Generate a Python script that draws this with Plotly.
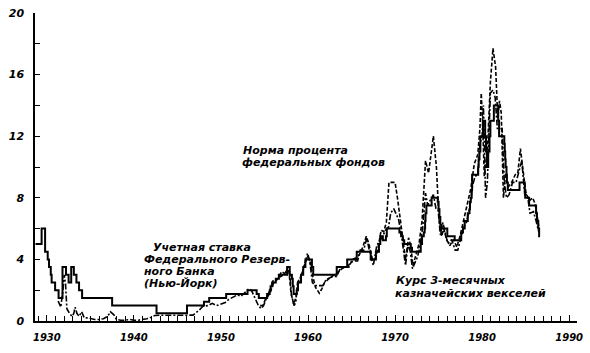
import plotly.graph_objects as go

# ---------------- data ----------------
# Discount rate, Federal Reserve Bank of New York (step series)
disc_t = [1928.7, 1929.4, 1929.8, 1930.1, 1930.25, 1930.45, 1930.55, 1930.95, 1931.35, 1931.8,
          1932.2, 1932.5, 1932.8, 1933.1, 1933.4, 1933.7, 1934.05, 1937.5, 1942.6, 1946.1,
          1948.05, 1948.65, 1950.6, 1953.05, 1954.1, 1954.35, 1955.3, 1955.6, 1955.7, 1955.9,
          1956.3, 1956.65, 1957.6, 1957.9, 1958.15, 1958.25, 1958.35, 1958.7, 1958.85, 1959.2,
          1959.45, 1959.7, 1960.45, 1960.6, 1963.3, 1964.5, 1965.6, 1967.2, 1967.8, 1968.15,
          1968.3, 1968.6, 1968.95, 1969.05, 1970.5, 1970.7, 1970.9, 1971.05, 1971.8, 1971.95,
          1972.95, 1973.1, 1973.3, 1973.4, 1973.45, 1973.5, 1973.6, 1974.2, 1974.9, 1975.0,
          1975.1, 1975.2, 1975.35, 1976.0, 1976.85, 1977.6, 1977.8, 1978.0, 1978.35, 1978.55,
          1978.6, 1978.7, 1978.8, 1978.85, 1979.55, 1979.6, 1979.7, 1979.8, 1980.1, 1980.35,
          1980.45, 1980.55, 1980.7, 1980.85, 1980.95, 1981.35, 1981.85, 1981.95, 1982.55, 1982.6,
          1982.65, 1982.7, 1982.8, 1982.85, 1982.95, 1984.3, 1984.9, 1984.95, 1985.4, 1986.2,
          1986.3, 1986.45, 1986.55, 1986.65]
disc_v = [5.0, 6.0, 4.5, 4.0, 3.5, 3.0, 2.5, 2.0, 1.5, 3.5,
          3.0, 2.5, 3.5, 3.0, 2.5, 2.0, 1.5, 1.0, 0.5, 1.0,
          1.25, 1.5, 1.75, 2.0, 1.75, 1.5, 1.75, 2.0, 2.25, 2.5,
          2.75, 3.0, 3.5, 3.0, 2.75, 2.25, 1.75, 2.0, 2.5, 3.0,
          3.5, 4.0, 3.5, 3.0, 3.5, 4.0, 4.5, 4.0, 4.5, 5.0,
          5.5, 5.25, 5.5, 6.0, 5.75, 5.5, 5.25, 5.0, 4.75, 4.5,
          5.0, 5.5, 5.75, 6.0, 6.5, 7.0, 7.5, 8.0, 7.75, 7.25,
          6.75, 6.25, 6.0, 5.5, 5.25, 5.75, 6.0, 6.5, 7.0, 7.25,
          7.75, 8.0, 8.5, 9.5, 10.0, 10.5, 11.0, 12.0, 13.0, 12.0,
          11.0, 10.0, 11.0, 12.0, 13.0, 14.0, 13.0, 12.0, 11.5, 11.0,
          10.5, 10.0, 9.5, 9.0, 8.5, 9.0, 8.5, 8.0, 7.5, 7.0,
          6.5, 6.0, 5.5, 5.5]

# Federal funds rate (dashed)
ff_t = [1954.5, 1954.8, 1955.1, 1955.4, 1955.7, 1956.0, 1956.3, 1956.6, 1956.9, 1957.2,
        1957.5, 1957.8, 1958.05, 1958.35, 1958.6, 1958.85, 1959.1, 1959.4, 1959.7, 1959.95,
        1960.25, 1960.55, 1960.85, 1961.3, 1961.6, 1961.9, 1962.3, 1962.7, 1963.1, 1963.5,
        1963.9, 1964.3, 1964.7, 1965.1, 1965.5, 1965.9, 1966.3, 1966.7, 1967.0, 1967.4,
        1967.8, 1968.1, 1968.4, 1968.7, 1969.0, 1969.3, 1970.0, 1970.3, 1970.6, 1970.9,
        1971.2, 1971.55, 1971.8, 1972.05, 1972.4, 1972.75, 1973.1, 1973.5, 1973.85, 1974.4,
        1974.75, 1975.05, 1975.35, 1975.6, 1975.9, 1976.3, 1976.7, 1977.1, 1977.5, 1977.9,
        1978.3, 1978.7, 1979.1, 1979.5, 1979.75, 1979.9, 1980.05, 1980.25, 1980.6, 1980.95,
        1981.25, 1981.55, 1981.8, 1982.0, 1982.2, 1982.45, 1982.7, 1983.0, 1983.4, 1983.8,
        1984.1, 1984.4, 1984.7, 1985.0, 1985.4, 1985.8, 1986.1, 1986.4, 1986.55]
ff_v = [1.0, 1.0, 1.4, 1.6, 1.9, 2.4, 2.6, 2.8, 2.9, 3.0,
        3.2, 3.3, 1.8, 1.1, 1.5, 2.4, 2.7, 3.3, 3.8, 4.2,
        3.8, 2.9, 2.2, 1.8, 2.1, 2.5, 2.7, 2.9, 3.0, 3.2,
        3.4, 3.5, 3.5, 4.0, 4.1, 4.3, 4.8, 5.5, 5.0, 4.0,
        4.1, 4.9, 5.9, 5.8, 6.4, 9.0, 9.0, 7.9, 6.7, 5.4,
        4.0, 5.4, 4.9, 3.6, 4.4, 5.0, 6.5, 10.4, 9.6, 12.0,
        10.0, 6.6, 5.5, 6.0, 5.3, 4.9, 5.3, 4.8, 5.6, 6.6,
        7.5, 8.6, 10.2, 10.8, 12.5, 14.8, 13.0, 9.4, 11.0, 15.5,
        17.7, 16.5, 13.2, 14.3, 13.5, 8.0, 9.6, 8.7, 9.0, 9.5,
        9.6, 11.2, 9.8, 8.4, 7.8, 8.0, 7.6, 6.5, 6.0]

# 3-month Treasury bill rate (dash-dot)
tb_t = [1931.3, 1931.6, 1931.85, 1932.0, 1932.15, 1932.3, 1932.6, 1932.9, 1933.1, 1933.25,
        1933.45, 1933.7, 1934.0, 1934.3, 1934.7, 1935.0, 1935.5, 1936.0, 1936.5, 1937.0,
        1937.3, 1937.7, 1938.0, 1938.5, 1939.0, 1939.5, 1940.0, 1940.5, 1941.0, 1941.5,
        1942.0, 1942.4, 1943.0, 1944.0, 1945.0, 1946.0, 1946.8, 1947.5, 1947.9, 1948.5,
        1949.0, 1949.5, 1950.0, 1950.5, 1950.9, 1951.5, 1951.9, 1952.3, 1952.8, 1953.2,
        1953.5, 1953.9, 1954.3, 1954.6, 1954.9, 1955.3, 1955.7, 1955.95, 1956.3, 1956.7,
        1956.95, 1957.3, 1957.6, 1957.9, 1958.1, 1958.4, 1958.6, 1958.8, 1959.1, 1959.4,
        1959.7, 1959.95, 1960.2, 1960.5, 1960.8, 1961.3, 1961.7, 1962.1, 1962.5, 1962.9,
        1963.3, 1963.7, 1964.1, 1964.5, 1964.9, 1965.3, 1965.7, 1966.0, 1966.4, 1966.75,
        1967.0, 1967.5, 1967.9, 1968.2, 1968.5, 1968.9, 1969.25, 1969.5, 1969.85, 1970.1,
        1970.4, 1970.75, 1971.0, 1971.2, 1971.5, 1971.75, 1972.0, 1972.3, 1972.6, 1972.9,
        1973.2, 1973.5, 1973.75, 1974.0, 1974.4, 1974.7, 1974.95, 1975.2, 1975.5, 1975.8,
        1976.1, 1976.5, 1976.9, 1977.2, 1977.6, 1977.9, 1978.2, 1978.6, 1978.9, 1979.2,
        1979.5, 1979.75, 1980.0, 1980.15, 1980.4, 1980.6, 1980.95, 1981.25, 1981.5, 1981.75,
        1982.0, 1982.3, 1982.55, 1982.8, 1983.1, 1983.5, 1983.9, 1984.3, 1984.55, 1984.9,
        1985.2, 1985.5, 1985.9, 1986.2, 1986.5]
tb_v = [1.3, 0.9, 2.0, 3.0, 2.4, 0.8, 0.5, 0.3, 0.5, 0.9,
        0.5, 0.3, 0.6, 0.2, 0.2, 0.15, 0.1, 0.1, 0.15, 0.3,
        0.6, 0.4, 0.1, 0.05, 0.05, 0.1, 0.05, 0.05, 0.1, 0.15,
        0.25, 0.36, 0.37, 0.37, 0.38, 0.38, 0.38, 0.7, 0.95, 1.0,
        1.15, 1.0, 1.1, 1.2, 1.4, 1.55, 1.7, 1.6, 1.9, 2.1,
        2.0, 1.5, 1.0, 0.8, 1.0, 1.6, 2.1, 2.6, 2.6, 2.9,
        3.2, 3.1, 3.3, 3.2, 1.7, 1.0, 1.2, 2.5, 2.8, 3.2,
        3.9, 4.4, 3.9, 2.5, 2.3, 2.3, 2.3, 2.7, 2.8, 2.9,
        2.9, 3.4, 3.5, 3.5, 3.8, 3.9, 3.9, 4.6, 4.6, 5.4,
        4.7, 3.6, 4.9, 5.2, 5.4, 5.9, 6.1, 7.0, 7.3, 7.0,
        6.6, 5.5, 4.4, 3.6, 5.0, 4.5, 3.4, 3.8, 4.2, 5.0,
        6.2, 8.3, 7.5, 7.8, 8.2, 7.3, 7.2, 5.6, 6.4, 5.6,
        5.0, 5.3, 4.6, 4.6, 5.5, 6.1, 6.4, 7.4, 8.8, 9.4,
        9.5, 11.5, 12.0, 14.0, 8.0, 9.0, 14.8, 15.0, 14.5, 12.5,
        12.5, 12.5, 9.0, 8.0, 8.2, 9.0, 9.0, 9.8, 10.4, 8.2,
        8.2, 7.0, 7.1, 6.5, 5.8]

x_tick_vals = [1930, 1940, 1950, 1960, 1970, 1980, 1990]
x_tick_text = ["1930", "1940", "1950", "1960", "1970", "1980", "1990"]
y_tick_vals = [0, 2, 4, 6, 8, 10, 12, 14, 16, 18, 20]
y_tick_text = ["0", "", "4", "", "8", "", "12", "", "16", "", "20"]

label_ff = ["Норма процента", "федеральных фондов"]
label_disc = ["Учетная ставка", "Федерального Резерв-", "ного Банка", "(Нью-Йорк)"]
label_tb = ["Курс 3-месячных", "казначейских векселей"]

# ---------------- figure ----------------
W, H = 590, 353
ML, MR, MT, MB = 35, 7, 7, 32
PW, PH = W - ML - MR, H - MT - MB

def px_x(px):
    return (px - ML) / PW

def px_y(py):
    return (H - MB - py) / PH

fig = go.Figure()
fig.add_trace(go.Scatter(x=tb_t, y=tb_v, mode="lines",
                         line=dict(color="black", width=1.6, dash="6px,2px,2px,2px"),
                         hoverinfo="skip"))
fig.add_trace(go.Scatter(x=ff_t, y=ff_v, mode="lines",
                         line=dict(color="black", width=1.6, dash="4px,2px"),
                         hoverinfo="skip"))
fig.add_trace(go.Scatter(x=disc_t, y=disc_v, mode="lines",
                         line=dict(color="black", width=2, shape="hv"),
                         hoverinfo="skip"))

tick_font = dict(family="DejaVu Sans", size=10, color="black", style="italic", weight="bold")

fig.update_layout(
    width=W, height=H,
    margin=dict(l=ML, r=MR, t=MT, b=MB),
    paper_bgcolor="white", plot_bgcolor="white",
    showlegend=False,
    xaxis=dict(range=[1928.64, 1990.9], showgrid=False, zeroline=False,
               showline=True, linecolor="black", linewidth=1.5,
               tickmode="array", tickvals=x_tick_vals, ticktext=x_tick_text,
               ticks="inside", ticklen=6, tickwidth=1.3, tickcolor="black",
               minor=dict(dtick=1, ticks="inside", ticklen=5, tickwidth=1.2, tickcolor="black"),
               tickfont=tick_font, ticklabelstandoff=6),
    yaxis=dict(range=[0, 20], showgrid=False, zeroline=False,
               showline=True, linecolor="black", linewidth=1.5,
               tickmode="array", tickvals=y_tick_vals, ticktext=y_tick_text,
               ticks="inside", ticklen=5, tickwidth=1.2, tickcolor="black",
               tickfont=dict(family="DejaVu Sans", size=11, color="black",
                             style="italic", weight="bold"),
               ticklabelstandoff=7),
)

ann_font = dict(family="DejaVu Sans", size=11, color="black", style="italic", weight="bold")

def add_lines(lines, left_px, first_center_py, step, indents=None):
    for i, txt in enumerate(lines):
        dx = indents[i] if indents else 0
        fig.add_annotation(text=txt, xref="paper", yref="paper",
                           x=px_x(left_px + dx), y=px_y(first_center_py + i * step),
                           xanchor="left", yanchor="middle", showarrow=False,
                           font=ann_font)

add_lines(label_ff, 242, 147, 12.5, [1, 0])
add_lines(label_disc, 143, 246, 12.2, [9, 0, 0, 0])
add_lines(label_tb, 397, 280, 12.5, [1, 0])

fig.write_html("out.html")
